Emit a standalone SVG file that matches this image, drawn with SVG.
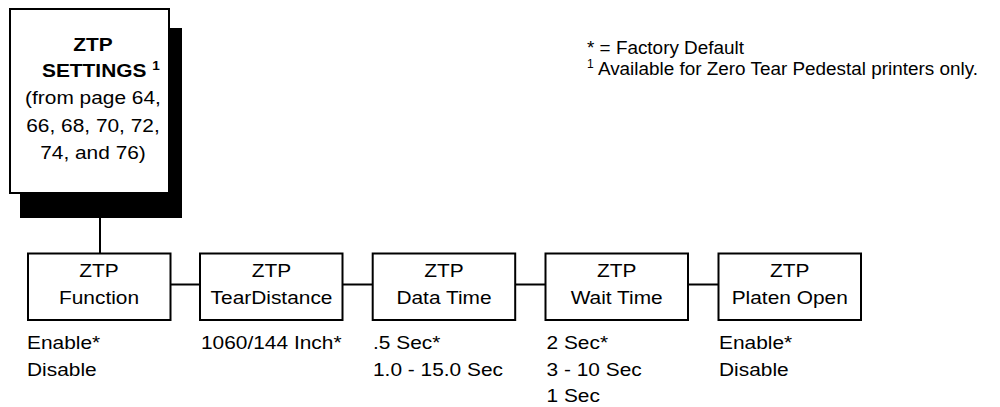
<svg xmlns="http://www.w3.org/2000/svg" width="1000" height="407" viewBox="0 0 1000 407">
<style>
.t{font-family:"Liberation Sans",Arial,Helvetica,sans-serif;font-size:18.5px;fill:#000}
.lg{font-size:18.9px}
.b{font-weight:bold}
.m{text-anchor:middle}
.box{fill:#fff;stroke:#000;stroke-width:2}
.ln{stroke:#000;stroke-width:2;fill:none}
.sup{font-size:12px}
</style>
<rect width="1000" height="407" fill="#fff"/>
<g id="connectors">
<line class="ln" x1="100" y1="218" x2="100" y2="253"/>
<line class="ln" x1="171" y1="284.5" x2="199" y2="284.5"/>
<line class="ln" x1="343" y1="284.5" x2="372" y2="284.5"/>
<line class="ln" x1="515" y1="284.5" x2="545" y2="284.5"/>
<line class="ln" x1="688" y1="284.5" x2="718" y2="284.5"/>
</g>
<g id="ztp-settings">
<rect x="20" y="28" width="162" height="190" fill="#000"/>
<rect class="box" x="10" y="9" width="159" height="184"/>
<text class="t b m" transform="translate(93,50.5) scale(1.13,1)">ZTP</text>
<text class="t b" transform="translate(42,77) scale(1.13,1)">SETTINGS <tspan class="sup" dy="-7">1</tspan></text>
<text class="t m" transform="translate(93,104) scale(1.13,1)">(from page 64,</text>
<text class="t m" transform="translate(93,132) scale(1.13,1)">66, 68, 70, 72,</text>
<text class="t m" transform="translate(93,159) scale(1.13,1)">74, and 76)</text>
</g>
<g id="legend">
<text class="t lg" x="587" y="54">* = Factory Default</text>
<text class="t lg" x="587" y="75"><tspan class="sup" dy="-7">1</tspan><tspan dy="7"> Available for Zero Tear Pedestal printers only.</tspan></text>
</g>
<g id="ztp-function">
<rect class="box" x="28" y="253.5" width="142.5" height="66.5"/>
<text class="t m" transform="translate(99,277) scale(1.13,1)">ZTP</text>
<text class="t m" transform="translate(99,304) scale(1.13,1)">Function</text>
<text class="t" transform="translate(27,349) scale(1.13,1)">Enable*</text>
<text class="t" transform="translate(27,375.5) scale(1.13,1)">Disable</text>
</g>
<g id="ztp-teardistance">
<rect class="box" x="200" y="253.5" width="142.5" height="66.5"/>
<text class="t m" transform="translate(271.5,277) scale(1.13,1)">ZTP</text>
<text class="t m" transform="translate(271.5,304) scale(1.13,1)">TearDistance</text>
<text class="t" transform="translate(201,349) scale(1.13,1)">1060/144 Inch*</text>
</g>
<g id="ztp-datatime">
<rect class="box" x="372.7" y="253.5" width="142.5" height="66.5"/>
<text class="t m" transform="translate(444,277) scale(1.13,1)">ZTP</text>
<text class="t m" transform="translate(444,304) scale(1.13,1)">Data Time</text>
<text class="t" transform="translate(373,349) scale(1.13,1)">.5 Sec*</text>
<text class="t" transform="translate(373,375.5) scale(1.13,1)">1.0 - 15.0 Sec</text>
</g>
<g id="ztp-waittime">
<rect class="box" x="545.5" y="253.5" width="142.5" height="66.5"/>
<text class="t m" transform="translate(616.7,277) scale(1.13,1)">ZTP</text>
<text class="t m" transform="translate(616.7,304) scale(1.13,1)">Wait Time</text>
<text class="t" transform="translate(546.5,349) scale(1.13,1)">2 Sec*</text>
<text class="t" transform="translate(546.5,375.5) scale(1.13,1)">3 - 10 Sec</text>
<text class="t" transform="translate(546.5,402) scale(1.13,1)">1 Sec</text>
</g>
<g id="ztp-platenopen">
<rect class="box" x="718.5" y="253.5" width="142.5" height="66.5"/>
<text class="t m" transform="translate(789.7,277) scale(1.13,1)">ZTP</text>
<text class="t m" transform="translate(789.7,304) scale(1.13,1)">Platen Open</text>
<text class="t" transform="translate(719,349) scale(1.13,1)">Enable*</text>
<text class="t" transform="translate(719,375.5) scale(1.13,1)">Disable</text>
</g>
</svg>
